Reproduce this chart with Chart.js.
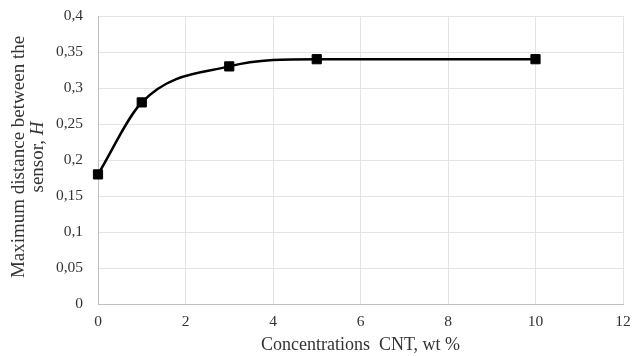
<!DOCTYPE html>
<html lang="en">
  <head>
    <meta charset="UTF-8" />
    <title>Maximum distance vs CNT concentration</title>
    <style>
      html, body { margin: 0; padding: 0; background: #fff; }
      #wrap { width: 635px; height: 356px; }
    </style>
    <script src="https://cdn.jsdelivr.net/npm/chart.js"></script>
  </head>
  <body>
    <div id="wrap"><canvas id="graph" width="635" height="356"></canvas></div>
    <script>
      // datos
      const concentrations = [0, 1, 3, 5, 10];
      const distances = [0.18, 0.28, 0.33, 0.34, 0.34];
      const xTitle = "Concentrations  CNT, wt %";
      const yTitleLines = ["Maximum distance between the", "sensor, "];
      const yTitleItalic = "H";

      const serif = "'Liberation Serif', 'Times New Roman', serif";

      // titulo del eje y con la H en cursiva
      const yTitlePlugin = {
        id: "yTitle",
        afterDraw(chart) {
          const ctx = chart.ctx;
          const area = chart.chartArea;
          const cy = (area.top + area.bottom) / 2 - 3;
          ctx.save();
          ctx.fillStyle = "#333";
          ctx.textBaseline = "middle";
          ctx.textAlign = "left";
          const fontN = "19px " + serif;
          const fontI = "italic 19px " + serif;
          const xs = [19, 38];
          yTitleLines.forEach((line, i) => {
            ctx.save();
            ctx.translate(xs[i], cy);
            ctx.rotate(-Math.PI / 2);
            ctx.font = fontN;
            let w = ctx.measureText(line).width;
            let wi = 0;
            if (i === 1) {
              ctx.font = fontI;
              wi = ctx.measureText(yTitleItalic).width;
            }
            const start = -(w + wi) / 2;
            ctx.font = fontN;
            ctx.fillText(line, start, 0);
            if (i === 1) {
              ctx.font = fontI;
              ctx.fillText(yTitleItalic, start + w, 0);
            }
            ctx.restore();
          });
          ctx.restore();
        },
      };

      const points = concentrations.map((x, i) => ({ x: x, y: distances[i] }));

      new Chart(document.getElementById("graph"), {
        type: "scatter",
        data: {
          datasets: [
            {
              data: points,
              showLine: true,
              clip: false, // el primer punto cae sobre el eje
              borderColor: "#000",
              borderWidth: 2.5,
              cubicInterpolationMode: "monotone",
              pointStyle: "rect",
              pointRadius: 6.5,
              pointBackgroundColor: "#000",
              pointBorderColor: "#000",
              pointBorderWidth: 1,
            },
          ],
        },
        options: {
          responsive: false,
          animation: false,
          layout: { padding: { top: 16, right: 12, left: 0, bottom: 0 } },
          plugins: {
            legend: { display: false },
            tooltip: { enabled: false },
          },
          scales: {
            x: {
              type: "linear",
              min: 0,
              max: 12,
              ticks: {
                stepSize: 2,
                padding: 9,
                color: "#333",
                font: { family: serif, size: 15.5 },
              },
              grid: { color: "#e3e3e3", drawTicks: false },
              border: { color: "#bfbfbf" },
              title: {
                display: true,
                text: xTitle,
                color: "#333",
                font: { family: serif, size: 18 },
                padding: { top: 1, bottom: 0 },
              },
              afterFit(scale) {
                scale.height = 52;
                scale.paddingLeft = 0;
                scale.paddingRight = 0;
              },
            },
            y: {
              min: 0,
              max: 0.4,
              ticks: {
                stepSize: 0.05,
                padding: 15,
                color: "#333",
                font: { family: serif, size: 15.5 },
                callback: (v) => String(Math.round(v * 100) / 100).replace(".", ","),
              },
              grid: { color: "#e3e3e3", drawTicks: false },
              border: { color: "#bfbfbf" },
              afterFit(scale) {
                scale.width = 98;
                scale.paddingTop = 0;
                scale.paddingBottom = 0;
              },
            },
          },
        },
        plugins: [yTitlePlugin],
      });
    </script>
  </body>
</html>
